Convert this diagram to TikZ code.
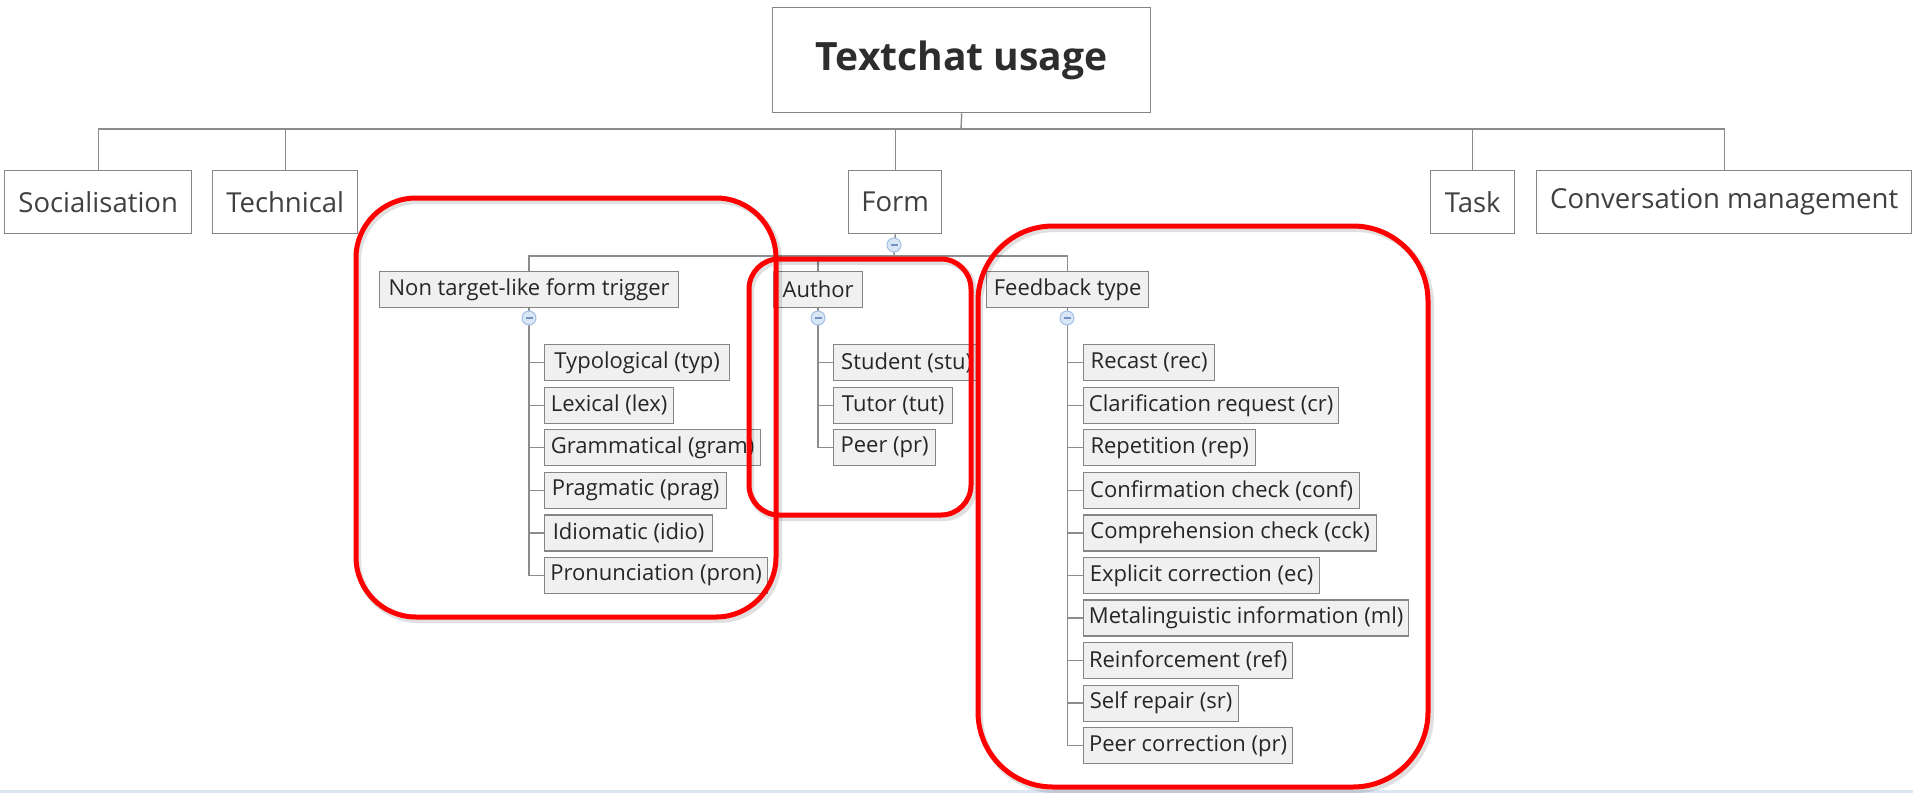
\documentclass[tikz,border=0pt]{standalone}
\usepackage{fontspec}
\setmainfont{Open Sans}
\definecolor{boxline}{HTML}{858585}
\definecolor{connline}{HTML}{8C8C8C}
\definecolor{subfill}{HTML}{F0F0F0}
\definecolor{toptext}{HTML}{404040}
\definecolor{leaftext}{HTML}{262626}
\definecolor{togfill}{HTML}{D9E6F6}
\definecolor{togline}{HTML}{A3BFE3}
\definecolor{togminus}{HTML}{7393C4}
\definecolor{strip}{HTML}{DCE6F2}
\definecolor{hilite}{HTML}{FF0000}
\newcommand{\rootfont}{\fontsize{39}{46}\selectfont\bfseries}
\newcommand{\topfont}{\fontsize{27.5}{33}\selectfont}
\newcommand{\leaffont}{\fontsize{22}{26}\selectfont}
\begin{document}
\begin{tikzpicture}[x=1pt,y=-1pt,
  rootbox/.style={draw=boxline, fill=white, line width=1.4pt, inner sep=0pt, anchor=north west, font=\rootfont, text=toptext!110},
  topbox/.style={draw=boxline, fill=white, line width=1.4pt, inner sep=0pt, minimum height=63pt, anchor=north west, font=\topfont, text=toptext},
  subbox/.style={draw=boxline, fill=subfill, line width=1.3pt, inner sep=0pt, minimum height=36pt, anchor=north west, font=\leaffont, text=leaftext},
  conn/.style={draw=connline, line width=1.4pt},
  tog/.style={circle, draw=togline, fill=togfill, line width=1pt, minimum size=14pt, inner sep=0pt,
    path picture={\draw[togminus, line width=1.2pt] ([xshift=-3.5pt]path picture bounding box.center) -- ([xshift=3.5pt]path picture bounding box.center);}},
  redbox/.style={draw=hilite, line width=5pt},
  redshadow/.style={draw=black, opacity=0.12, line width=6pt}
]
\useasboundingbox (0,0) rectangle (1913,793);
\fill[strip] (0,790) rectangle (1913,793);

% root and main topics
\node[rootbox, minimum width=378pt, minimum height=105pt] (root) at (772,7) {Textchat usage};
\node[topbox, minimum width=187pt] (soc) at (4,170) {Socialisation};
\node[topbox, minimum width=145pt] (tech) at (212,170) {Technical};
\node[topbox, minimum width=93pt] (form) at (848,170) {Form};
\node[topbox, minimum width=84pt] (task) at (1430,170) {Task};
\node[topbox, minimum width=375pt] (cm) at (1536,170) {Conversation management};

\coordinate (bus) at (961,129);
\draw[conn] (root.south) -- (bus);
\draw[conn] (soc.north) -- (soc.north |- bus) -- (cm.north |- bus) -- (cm.north);
\draw[conn] (tech.north) -- (tech.north |- bus);
\draw[conn] (form.north) -- (form.north |- bus);
\draw[conn] (task.north) -- (task.north |- bus);

% sub topics of Form
\node[subbox, minimum width=299pt] (ntft) at (379,271) {Non target-like form trigger};
\node[subbox, minimum width=89pt] (author) at (773,271) {Author};
\node[subbox, minimum width=162pt] (fb) at (986,271) {Feedback type};

\coordinate (bus2) at (894,256);
\draw[conn] (form.south) -- (bus2);
\draw[conn] (ntft.north) -- (ntft.north |- bus2) -- (fb.north |- bus2) -- (fb.north);
\draw[conn] (author.north) -- (author.north |- bus2);

% Non target-like form trigger leaves
\node[subbox, minimum width=185pt] (n1) at (544,344) {Typological (typ)};
\node[subbox, minimum width=129pt] (n2) at (544,386.6) {Lexical (lex)};
\node[subbox, minimum width=216pt] (n3) at (544,429.1) {Grammatical (gram)};
\node[subbox, minimum width=182pt] (n4) at (544,471.7) {Pragmatic (prag)};
\node[subbox, minimum width=168pt] (n5) at (544,514.2) {Idiomatic (idio)};
\node[subbox, minimum width=223pt] (n6) at (544,556.8) {Pronunciation (pron)};
\draw[conn] (ntft.south) -- (ntft.south |- n6.west) -- (n6.west);
\foreach \n in {n1,n2,n3,n4,n5} \draw[conn] (\n.west) -- (\n.west -| ntft.south);

% Author leaves
\node[subbox, minimum width=146pt] (a1) at (833,344) {Student (stu)};
\node[subbox, minimum width=119pt] (a2) at (833,386.6) {Tutor (tut)};
\node[subbox, minimum width=102pt] (a3) at (833,429.1) {Peer (pr)};
\draw[conn] (author.south) -- (author.south |- a3.west) -- (a3.west);
\foreach \n in {a1,a2} \draw[conn] (\n.west) -- (\n.west -| author.south);

% Feedback type leaves
\node[subbox, minimum width=131pt] (f1) at (1083,344) {Recast (rec)};
\node[subbox, minimum width=255pt] (f2) at (1083,386.6) {Clarification request (cr)};
\node[subbox, minimum width=172pt] (f3) at (1083,429.1) {Repetition (rep)};
\node[subbox, minimum width=276pt] (f4) at (1083,471.7) {Confirmation check (conf)};
\node[subbox, minimum width=293pt] (f5) at (1083,514.2) {Comprehension check (cck)};
\node[subbox, minimum width=236pt] (f6) at (1083,556.8) {Explicit correction (ec)};
\node[subbox, minimum width=325pt] (f7) at (1083,599.4) {Metalinguistic information (ml)};
\node[subbox, minimum width=209pt] (f8) at (1083,641.9) {Reinforcement (ref)};
\node[subbox, minimum width=155pt] (f9) at (1083,684.5) {Self repair (sr)};
\node[subbox, minimum width=209pt] (f10) at (1083,727) {Peer correction (pr)};
\draw[conn] (fb.south) -- (fb.south |- f10.west) -- (f10.west);
\foreach \n in {f1,f2,f3,f4,f5,f6,f7,f8,f9} \draw[conn] (\n.west) -- (\n.west -| fb.south);

% collapse toggles
\node[tog] (t0) at (894,245) {};
\node[tog] (t1) at (529,318) {};
\node[tog] (t2) at (818,318) {};
\node[tog] (t3) at (1067,318) {};

% red highlight frames
\draw[redshadow, rounded corners=60pt] (358,201) rectangle (779,620);
\draw[redshadow, rounded corners=30pt] (751,262) rectangle (974,518);
\draw[redshadow, rounded corners=75pt] (980,229) rectangle (1431,790);
\draw[redbox, rounded corners=60pt] (356,198) rectangle (776,617);
\draw[redbox, rounded corners=30pt] (749,259) rectangle (971,515);
\draw[redbox, rounded corners=75pt] (978,226) rectangle (1428,787);
\end{tikzpicture}
\end{document}
